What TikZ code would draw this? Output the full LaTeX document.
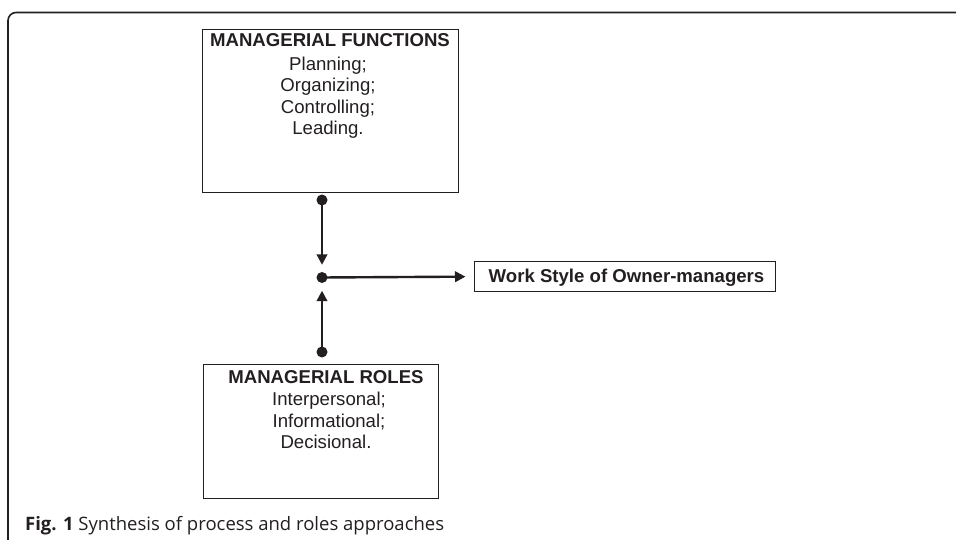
\documentclass[tikz,border=0pt]{standalone}
\usepackage{fontspec}
\setmainfont{Liberation Sans}
\newfontfamily\capfont{Open Sans}
\usetikzlibrary{arrows.meta}
\definecolor{ink}{HTML}{231F20}
\tikzset{
  boxframe/.style={draw=ink, line width=1.2pt, inner sep=0pt, anchor=north west},
  boxtxt/.style={anchor=base, inner sep=0pt, text=ink, font=\fontsize{18.6}{22}\selectfont},
  boxtitle/.style={boxtxt, font=\fontsize{18.6}{22}\selectfont\bfseries},
  dotnode/.style={circle, fill=ink, inner sep=0pt, minimum size=11pt},
  link/.style={draw=ink, line width=2.4pt, -{Triangle[width=10.5pt,length=10.5pt]}},
}
\begin{document}
\begin{tikzpicture}[x=1pt,y=-1pt]
\useasboundingbox (0,0) rectangle (956,540);
% outer frame
\draw[ink, line width=1.6pt, rounded corners=8pt] (8,545) -- (8,12.5) -- (960,12.5);
% top box
\node[boxframe, minimum width=256pt, minimum height=163pt] (fbox) at (202,29) {};
\node[boxtitle] (ftitle) at (330,47) {MANAGERIAL FUNCTIONS};
\node[boxtxt] (f1) at (328,70.5) {Planning;};
\node[boxtxt] (f2) at (328,92) {Organizing;};
\node[boxtxt] (f3) at (328,113.5) {Controlling;};
\node[boxtxt] (f4) at (328,135) {Leading.};
% bottom box
\node[boxframe, minimum width=235pt, minimum height=134pt] (rbox) at (203,364) {};
\node[boxtitle] (rtitle) at (326,383) {MANAGERIAL ROLES};
\node[boxtxt] (r1) at (329,405) {Interpersonal;};
\node[boxtxt] (r2) at (329,427) {Informational;};
\node[boxtxt] (r3) at (326,448) {Decisional.};
% work style box
\node[boxframe, minimum width=301pt, minimum height=30pt] (wbox) at (473.5,261) {};
\node[boxtitle, anchor=base west] (wtxt) at (488.5,282) {Work Style of Owner-managers};
% dots
\node[dotnode] (d1) at (322,200) {};
\node[dotnode] (d2) at (322,277.5) {};
\node[dotnode] (d3) at (322,352) {};
% connectors
\draw[link, shorten >=7pt] (d1.center) -- (d2);
\draw[link, shorten >=7.5pt] (d3.center) -- (d2);
\draw[link, shorten >=8pt] (d2.center) -- (wbox.west);
% caption
\node[anchor=base west, inner sep=0pt, text=ink, font=\capfont\fontsize{18.5}{22}\selectfont] (cap) at (25,530.5) {\textbf{Fig. 1} Synthesis of process and roles approaches};
\end{tikzpicture}
\end{document}
